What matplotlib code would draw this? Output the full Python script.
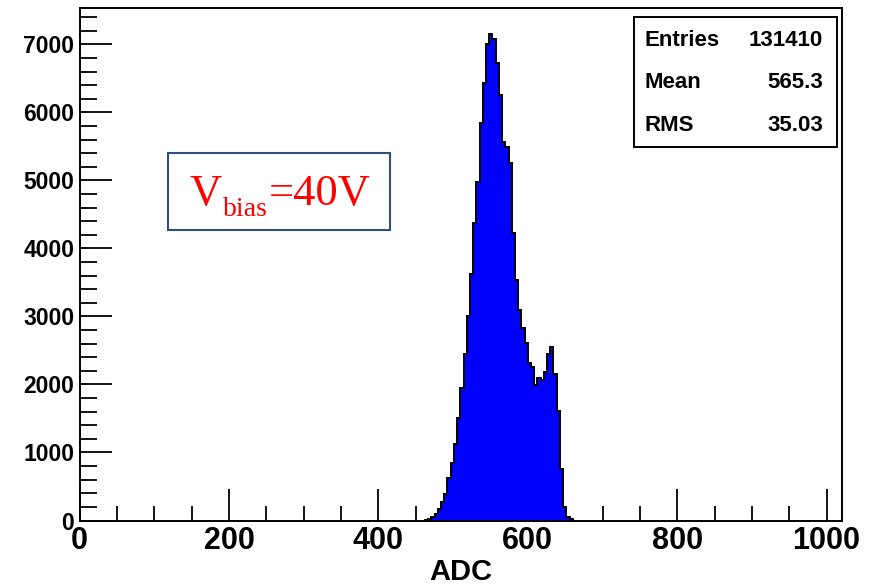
import numpy as np
import matplotlib
matplotlib.use("Agg")
import matplotlib.pyplot as plt
from matplotlib.ticker import MultipleLocator
from matplotlib.patches import Rectangle

# ---- data ----
bin_start = 462.3
bin_width = 4.3
counts = [10, 24, 53, 93, 162, 274, 387, 632, 838, 1122,
          1504, 1946, 2446, 3009, 3622, 4376, 4980, 5840, 6435, 7010,
          7150, 7080, 6720, 6255, 5567, 5494, 5250, 4220, 3534, 3093,
          2824, 2603, 2309, 2259, 1990, 2100, 2060, 2190, 2450, 2550,
          2150, 1612, 750, 200, 53, 15]
x_ticks = [0, 200, 400, 600, 800, 1000]
y_ticks = [0, 1000, 2000, 3000, 4000, 5000, 6000, 7000]
stats_labels = ["Entries", "Mean", "RMS"]
stats_values = ["131410", "565.3", "35.03"]
x_title = "ADC"

edges = bin_start + bin_width * np.arange(len(counts) + 1)

SANS = 'Liberation Sans'
SERIF = 'Liberation Serif'

W, H = 875, 587
fig = plt.figure(figsize=(W / 100, H / 100), dpi=100)
fig.patch.set_facecolor('white')

ax = fig.add_axes([79.7 / W, 1 - 520.5 / H, (842 - 79.7) / W, (520.5 - 8) / H])
ax.stairs(counts, edges, fill=True, color='#0000ff', zorder=2)
ax.stairs(counts, edges, color='black', linewidth=1.4, zorder=3)

ax.set_xlim(0, 1020.6)
ax.set_ylim(0, 7534)
ax.set_xticks(x_ticks)
ax.set_yticks(y_ticks)
ax.xaxis.set_minor_locator(MultipleLocator(50))
ax.yaxis.set_minor_locator(MultipleLocator(200))
ax.tick_params(which='both', direction='in', top=False, right=False, width=1.3, color='black')
ax.tick_params(axis='x', which='major', length=23, pad=4)
ax.tick_params(axis='x', which='minor', length=11)
ax.tick_params(axis='y', which='major', length=23, pad=4)
ax.tick_params(axis='y', which='minor', length=12)
for sp in ax.spines.values():
    sp.set_linewidth(1.4)
    sp.set_color('black')

for lab in ax.get_xticklabels():
    lab.set_fontfamily(SANS)
    lab.set_fontweight('bold')
    lab.set_fontsize(22)
for lab in ax.get_yticklabels():
    lab.set_fontfamily(SANS)
    lab.set_fontweight('bold')
    lab.set_fontsize(16.5)

fig.text(461 / W, 1 - 572 / H, x_title, ha='center', va='center',
         fontfamily=SANS, fontweight='bold', fontsize=21)

# stats box
fig.patches.append(Rectangle((634 / W, 1 - 146.7 / H), 203 / W, 129.4 / H,
                             transform=fig.transFigure, facecolor='white',
                             edgecolor='black', linewidth=1.4, zorder=5))
ys = [40, 83, 126]
for lab, val, y in zip(stats_labels, stats_values, ys):
    fig.text(645 / W, 1 - y / H, lab, ha='left', va='center', fontfamily=SANS,
             fontweight='bold', fontsize=16, zorder=6)
    fig.text(823 / W, 1 - y / H, val, ha='right', va='center', fontfamily=SANS,
             fontweight='bold', fontsize=16, zorder=6)

# V_bias annotation box
fig.patches.append(Rectangle((168.3 / W, 1 - 230 / H), 221.7 / W, 77.3 / H,
                             transform=fig.transFigure, facecolor='white',
                             edgecolor='#2f4f80', linewidth=1.5, zorder=5))
base_y = 1 - 205 / H
t1 = fig.text(190 / W, base_y, "V", ha='left', va='baseline', color='#ff0000',
              fontfamily=SERIF, fontsize=32, zorder=6)
fig.canvas.draw()
r = fig.canvas.get_renderer()
bb1 = t1.get_window_extent(r)
t2 = fig.text(bb1.x1 / W + 1 / W, 1 - 216 / H, "bias", ha='left', va='baseline',
              color='#ff0000', fontfamily=SERIF, fontsize=20, zorder=6)
bb2 = t2.get_window_extent(r)
fig.text(bb2.x1 / W + 1 / W, base_y, "=40V", ha='left', va='baseline', color='#ff0000',
         fontfamily=SERIF, fontsize=32, zorder=6)

fig.savefig('out.png', dpi=100)
